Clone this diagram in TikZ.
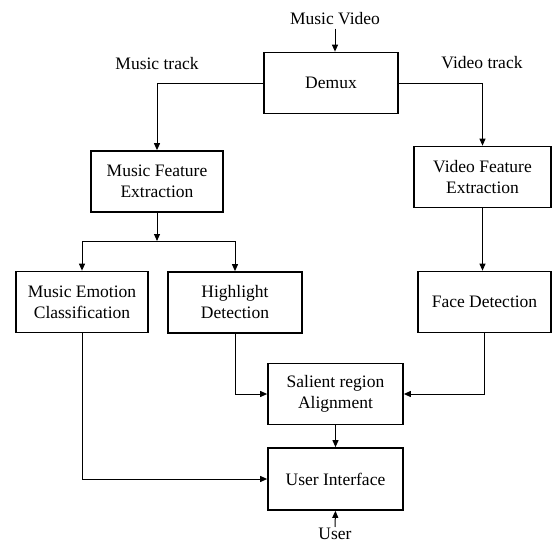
\documentclass[tikz,border=0pt]{standalone}
\usepackage{fontspec}
\setmainfont{Liberation Serif}
\usepackage{tikz}
\usetikzlibrary{arrows.meta, positioning}
\tikzset{%
	block/.style={
		rectangle,
		draw,
		line width=1.7pt,
		minimum width=134pt,
		minimum height=61pt,
		align=center,
		inner sep=2pt
	},
	link/.style={
		line width=1pt,
		-{Triangle[length=7pt,width=6pt]}
	},
}

\begin{document}
\begin{tikzpicture}[x=1pt, y=-1pt, font=\fontsize{17.5}{21}\selectfont]
			\useasboundingbox (0,0) rectangle (552,544);
			
			% Draw the blocks
			\node[block] (demux) at (331,83) {Demux};
			\node[block, minimum width=132pt] (musfeat) at (157,181.5) {Music Feature\\Extraction};
			\node[block, minimum width=137pt] (vidfeat) at (482.5,177) {Video Feature\\Extraction};
			\node[block, minimum width=132pt] (emotion) at (82,302) {Music Emotion\\Classification};
			\node[block] (highlight) at (235,302.5) {Highlight\\Detection};
			\node[block, minimum width=133pt] (face) at (484.5,302) {Face Detection};
			\node[block, minimum width=135pt] (salient) at (335.5,394) {Salient region\\Alignment};
			\node[block, minimum width=135pt, minimum height=62pt] (ui) at (335.5,479) {User Interface};
			
			% Draw the texts
			\node (input) at (335,19) {Music Video};
			\node (musictrack) at (157,64) {Music track};
			\node (videotrack) at (482,63) {Video track};
			\node[inner sep=1pt] (user) at (335,534) {User};
			\coordinate (branch) at (157,241);
			
			% Draw the arrows
			\draw[link] (input.south) -- (input.south |- demux.north);
			\draw[link] (demux.west) -| (musfeat.north);
			\draw[link] (demux.east) -| (vidfeat.north);
			\draw[link] (musfeat.south) -- (branch);
			\draw[link] (branch) -| (emotion.north);
			\draw[link] (branch) -| (highlight.north);
			\draw[link] (vidfeat.south) -- (vidfeat.south |- face.north);
			\draw[link] (highlight.south) |- (salient.west);
			\draw[link] (face.south) |- (salient.east);
			\draw[link] (emotion.south) |- (ui.west);
			\draw[link] (salient.south) -- (ui.north);
			\draw[link] (user.north) -- (ui.south);
		\end{tikzpicture}
\end{document}
